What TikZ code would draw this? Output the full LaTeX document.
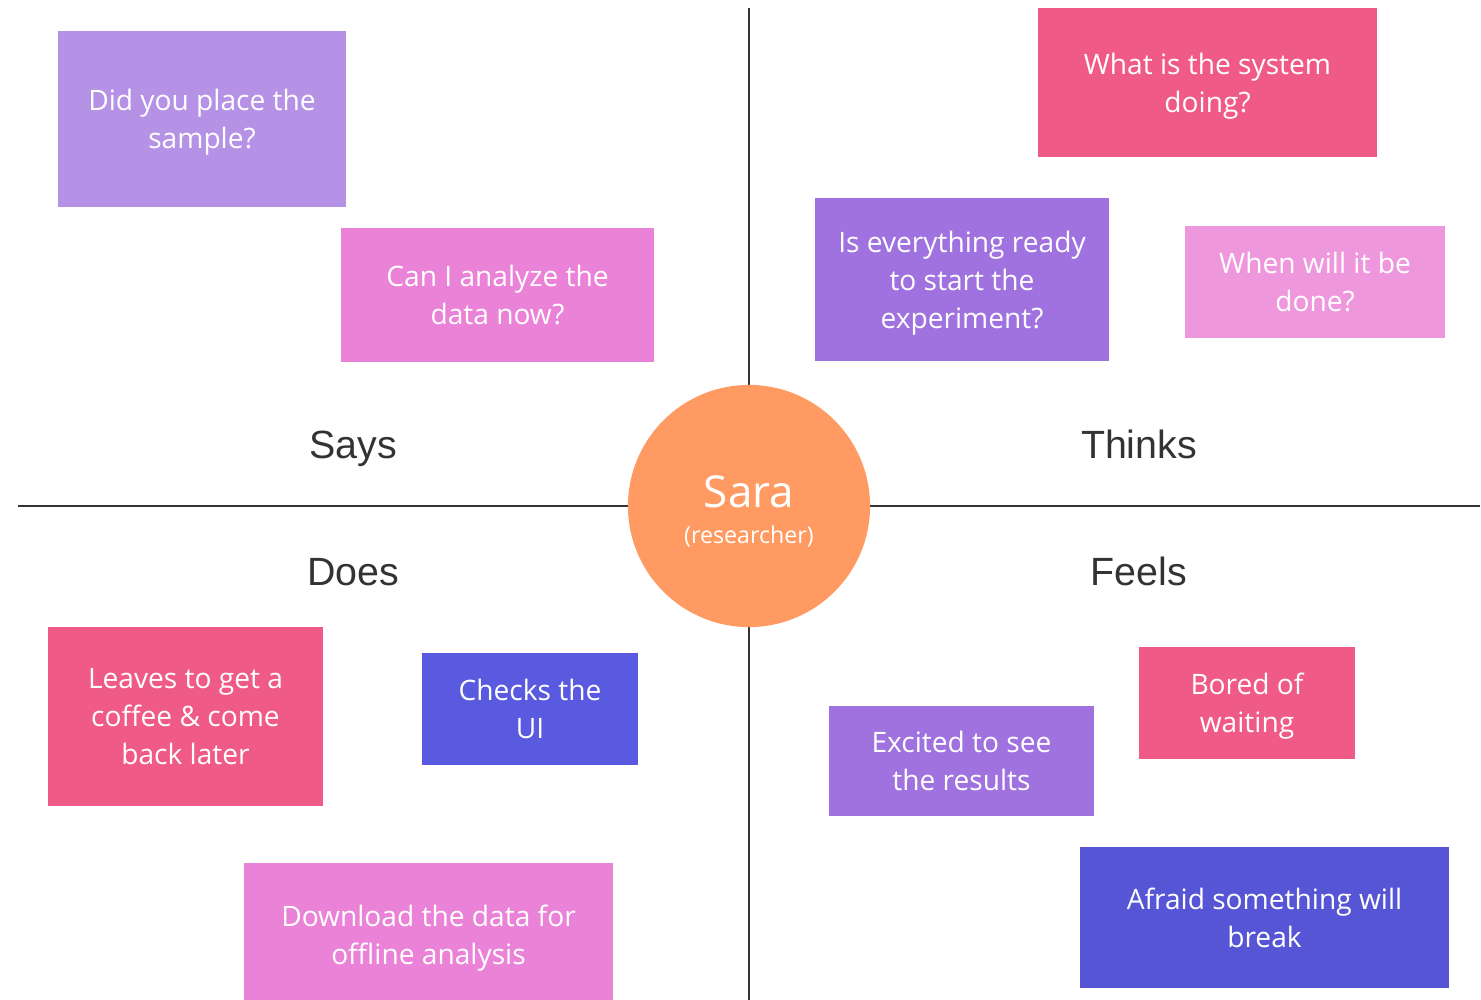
\documentclass[tikz,border=0pt]{standalone}
\usepackage{fontspec}
\setmainfont{Open Sans}
\newfontfamily\labelfont{Liberation Sans}
\usepackage{xcolor}
\usetikzlibrary{positioning}

\definecolor{lilac}{HTML}{B592E6}
\definecolor{orchid}{HTML}{EA82D8}
\definecolor{rose}{HTML}{F05A87}
\definecolor{violet}{HTML}{9F72DF}
\definecolor{blush}{HTML}{EE97DC}
\definecolor{indigo}{HTML}{5A5AE0}
\definecolor{ink}{HTML}{333333}
\definecolor{peach}{HTML}{FF9B62}

\begin{document}
\begin{tikzpicture}[x=0.01cm, y=-0.01cm,
    note/.style = {rectangle, text=white, align=center, inner sep=0pt,
                   font=\fontsize{8}{10.8}\selectfont, text depth=-0.5pt},
    quad/.style = {text=ink, anchor=base, font=\labelfont\fontsize{11.2}{13}\selectfont},
    axis/.style = {draw=ink, line width=0.7pt}]
    \useasboundingbox (0,0) rectangle (1481,1000);
    \clip (0,0) rectangle (1481,1000);

    % axes
    \coordinate (top) at (749,8);
    \coordinate (bottom) at (749,1000);
    \coordinate (left) at (18,506);
    \coordinate (right) at (1480,506);
    \draw[axis] (top) -- (bottom);
    \draw[axis] (left) -- (right);

    % persona
    \node[circle, fill=peach, minimum size=2.42cm, inner sep=0pt] (sara) at (749,506) {};
    \node[text=white, font=\fontsize{12.5}{14}\selectfont] (name) at (749,492) {Sara};
    \node[text=white, font=\fontsize{6.6}{8}\selectfont] (role) at (749,537) {(researcher)};

    % quadrant titles
    \node[quad] (says) at (353,458) {Says};
    \node[quad] (thinks) at (1139,458) {Thinks};
    \node[quad] (does) at (353,585) {Does};
    \node[quad] (feels) at (1139,585) {Feels};

    % says
    \node[note, fill=lilac, minimum width=2.88cm, minimum height=1.76cm] (sample) at (202,119)
        {Did you place the\\sample?};
    \node[note, fill=orchid, minimum width=3.13cm, minimum height=1.34cm] (analyze) at (497.5,295)
        {Can I analyze the\\data now?};

    % thinks
    \node[note, fill=rose, minimum width=3.39cm, minimum height=1.49cm] (system) at (1207.5,82.5)
        {What is the system\\doing?};
    \node[note, fill=violet, minimum width=2.94cm, minimum height=1.63cm] (ready) at (962,279.5)
        {Is everything ready\\to start the\\experiment?};
    \node[note, fill=blush, minimum width=2.60cm, minimum height=1.12cm] (done) at (1315,282)
        {When will it be\\done?};

    % does
    \node[note, fill=rose, minimum width=2.75cm, minimum height=1.79cm] (coffee) at (185.5,716.5)
        {Leaves to get a\\coffee \& come\\back later};
    \node[note, fill=indigo, minimum width=2.16cm, minimum height=1.12cm] (ui) at (530,709)
        {Checks the\\UI};
    \node[note, fill=orchid, minimum width=3.69cm, minimum height=1.44cm] (download) at (428.5,935)
        {Download the data for\\offline analysis};

    % feels
    \node[note, fill=violet, minimum width=2.65cm, minimum height=1.10cm] (excited) at (961.5,761)
        {Excited to see\\the results};
    \node[note, fill=rose, minimum width=2.16cm, minimum height=1.12cm] (bored) at (1247,703)
        {Bored of\\waiting};
    \node[note, fill=indigo!95!black, minimum width=3.69cm, minimum height=1.41cm] (afraid) at (1264.5,917.5)
        {Afraid something will\\break};
\end{tikzpicture}
\end{document}
